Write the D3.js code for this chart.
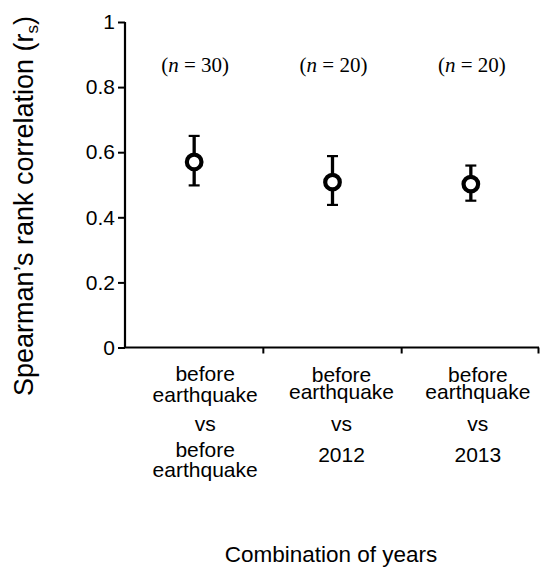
<!DOCTYPE html>
<html>
<head>
<meta charset="utf-8">
<script src="https://cdn.jsdelivr.net/npm/d3@7"></script>
<style>
html,body{margin:0;padding:0;background:#fff;}
svg{display:block;}
</style>
</head>
<body>
<svg id="chart" width="540" height="567"></svg>
<script>
const categories = ["c1", "c2", "c3"];
const categoryLines = [
  [["before", "earthquake"], ["vs"], ["before", "earthquake"]],
  [["before", "earthquake"], ["vs"], ["2012"]],
  [["before", "earthquake"], ["vs"], ["2013"]]
];
const means = [0.570, 0.508, 0.502];
const upper = [0.650, 0.588, 0.559];
const lower = [0.498, 0.438, 0.451];
const sampleSizes = [30, 20, 20];
const yTicks = [0, 0.2, 0.4, 0.6, 0.8, 1];
const yTickLabels = ["0", "0.2", "0.4", "0.6", "0.8", "1"];

const svg = d3.select("#chart");
const x = d3.scaleBand().domain(categories).range([125, 540]).padding(0);
const y = d3.scaleLinear().domain([0, 1]).range([347.5, 22]);

const sans = "Liberation Sans, Arial, sans-serif";
const serif = "Liberation Serif, Times New Roman, serif";

// Y axis
const yAxis = svg.append("g").attr("transform", "translate(125,0)")
  .call(d3.axisLeft(y).tickValues(yTicks).tickFormat((d, i) => yTickLabels[i]).tickSize(7).tickSizeOuter(0).tickPadding(3));
yAxis.select(".domain").attr("stroke", "#000").attr("stroke-width", 2.2);
yAxis.selectAll(".tick line").attr("stroke", "#000").attr("stroke-width", 2);
yAxis.selectAll(".tick text").attr("font-family", sans).attr("font-size", 21).attr("fill", "#000");
yAxis.select(".domain").attr("d", "M0," + y(1) + "V" + y(0));

// X axis with ticks at band boundaries
const xg = svg.append("g");
xg.append("line").attr("x1", 124).attr("x2", 539).attr("y1", y(0)).attr("y2", y(0))
  .attr("stroke", "#000").attr("stroke-width", 2.2);
const bounds = categories.map(c => x(c) + x.bandwidth());
xg.selectAll("line.tk").data(bounds).enter().append("line").attr("class", "tk")
  .attr("x1", d => Math.min(d, 538.5)).attr("x2", d => Math.min(d, 538.5))
  .attr("y1", y(0)).attr("y2", y(0) + 6).attr("stroke", "#000").attr("stroke-width", 2);

// Category labels
const lineBaselines = [
  [381, 402, 431, 457, 477],
  [382, 399, 431, 462],
  [382, 399, 431, 462]
];
const labelShift = [11, 9, 7];
categories.forEach((c, i) => {
  const flat = categoryLines[i].flat();
  const cx = x(c) + x.bandwidth() / 2 + labelShift[i];
  svg.selectAll(null).data(flat).enter().append("text")
    .attr("x", cx).attr("y", (d, j) => lineBaselines[i][j])
    .attr("text-anchor", "middle").attr("font-family", sans).attr("font-size", 21).attr("fill", "#000")
    .text(d => d);
});

// Error bars
const g = svg.append("g");
categories.forEach((c, i) => {
  const cx = x(c) + x.bandwidth() / 2;
  g.append("line").attr("x1", cx).attr("x2", cx).attr("y1", y(lower[i])).attr("y2", y(upper[i]))
    .attr("stroke", "#000").attr("stroke-width", 3.3);
  [upper[i], lower[i]].forEach(v => {
    g.append("line").attr("x1", cx - 5.5).attr("x2", cx + 5.5).attr("y1", y(v)).attr("y2", y(v))
      .attr("stroke", "#000").attr("stroke-width", 2.2);
  });
  g.append("circle").attr("cx", cx).attr("cy", y(means[i])).attr("r", 7.3)
    .attr("fill", "#fff").attr("stroke", "#000").attr("stroke-width", 4.2);
});

// n labels
categories.forEach((c, i) => {
  const cx = x(c) + x.bandwidth() / 2;
  const t = svg.append("text").attr("x", cx + 1).attr("y", 72).attr("text-anchor", "middle")
    .attr("font-family", serif).attr("font-size", 21).attr("fill", "#000");
  t.append("tspan").text("(");
  t.append("tspan").attr("font-style", "italic").text("n");
  t.append("tspan").text(" = " + sampleSizes[i] + ")");
});

// Y axis title
const yt = svg.append("text").attr("transform", "translate(33,206) rotate(-90)")
  .attr("text-anchor", "middle").attr("font-family", sans).attr("font-size", 27).attr("fill", "#000");
yt.append("tspan").text("Spearman\u2019s rank correlation (r");
yt.append("tspan").attr("font-size", 17).attr("dy", 5).text("s");
yt.append("tspan").attr("dy", -5).text(")");

// X axis title
svg.append("text").attr("x", 331).attr("y", 562).attr("text-anchor", "middle")
  .attr("font-family", sans).attr("font-size", 22.5).attr("fill", "#000").text("Combination of years");
</script>
</body>
</html>
